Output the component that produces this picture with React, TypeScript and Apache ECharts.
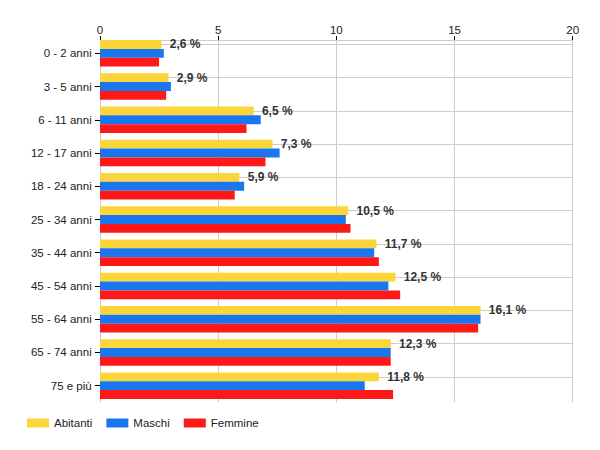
import React, { useEffect, useRef } from "react";
import * as echarts from "echarts";

const categories = [
  "0 - 2 anni",
  "3 - 5 anni",
  "6 - 11 anni",
  "12 - 17 anni",
  "18 - 24 anni",
  "25 - 34 anni",
  "35 - 44 anni",
  "45 - 54 anni",
  "55 - 64 anni",
  "65 - 74 anni",
  "75 e più",
];
const abitanti = [2.6, 2.9, 6.5, 7.3, 5.9, 10.5, 11.7, 12.5, 16.1, 12.3, 11.8];
const maschi = [2.7, 3.0, 6.8, 7.6, 6.1, 10.4, 11.6, 12.2, 16.1, 12.3, 11.2];
const femmine = [2.5, 2.8, 6.2, 7.0, 5.7, 10.6, 11.8, 12.7, 16.0, 12.3, 12.4];
const xTicks = [0, 5, 10, 15, 20];

const FONT = "'Liberation Sans', Arial, sans-serif";

export default function App() {
  const ref = useRef<HTMLDivElement>(null);
  useEffect(() => {
    if (!ref.current) return;
    document.body.style.margin = "0";
    const chart = echarts.init(ref.current, null, { renderer: "svg" });
    chart.setOption({
      animation: false,
      textStyle: { fontFamily: FONT },
      grid: { left: 100, right: 27.3, top: 36.7, height: 365.6 },
      legend: {
        left: 27,
        top: 417,
        padding: 0,
        itemWidth: 22,
        itemHeight: 9,
        itemGap: 14,
        icon: "rect",
        textStyle: { fontFamily: FONT, fontSize: 11.5, color: "#222" },
        data: ["Abitanti", "Maschi", "Femmine"],
      },
      xAxis: {
        type: "value",
        position: "top",
        min: xTicks[0],
        max: xTicks[xTicks.length - 1],
        interval: 5,
        offset: -3.3,
        axisLine: { show: true, lineStyle: { color: "#cccccc", width: 1 } },
        axisTick: { show: true, length: 4, lineStyle: { color: "#000", width: 1 } },
        axisLabel: { margin: 4, fontSize: 11.5, color: "#222", fontFamily: FONT },
        splitLine: { show: true, lineStyle: { color: "#cccccc", width: 1 } },
      },
      yAxis: {
        type: "category",
        inverse: true,
        data: categories,
        axisLine: { show: false },
        axisTick: {
          show: true,
          alignWithLabel: true,
          length: 5,
          lineStyle: { color: "#000", width: 1 },
        },
        axisLabel: { margin: 8.3, fontSize: 11.5, color: "#222", fontFamily: FONT },
        splitLine: { show: false },
      },
      series: [
        {
          name: "Abitanti",
          type: "bar",
          data: abitanti,
          barGap: "0%",
          barCategoryGap: "20%",
          itemStyle: { color: "#fcd53b" },
          label: {
            show: true,
            position: "right",
            distance: 8.3,
            fontFamily: FONT,
            fontSize: 12,
            fontWeight: "bold",
            color: "#333333",
            formatter: (p: any) => p.value.toFixed(1).replace(".", ",") + " %",
          },
          markLine: {
            silent: true,
            z: 1,
            symbol: ["none", "none"],
            label: { show: false },
            lineStyle: { color: "#cccccc", width: 1, type: "solid" },
            data: categories.map((c) => ({ yAxis: c })),
          },
        },
        {
          name: "Maschi",
          type: "bar",
          data: maschi,
          barGap: "0%",
          barCategoryGap: "20%",
          itemStyle: { color: "#1a76ee" },
        },
        {
          name: "Femmine",
          type: "bar",
          data: femmine,
          barGap: "0%",
          barCategoryGap: "20%",
          itemStyle: { color: "#fe1818" },
        },
      ],
    });
    return () => chart.dispose();
  }, []);
  return (
    <div
      ref={ref}
      style={{ position: "absolute", left: 0, top: 0, width: 600, height: 450 }}
    />
  );
}
